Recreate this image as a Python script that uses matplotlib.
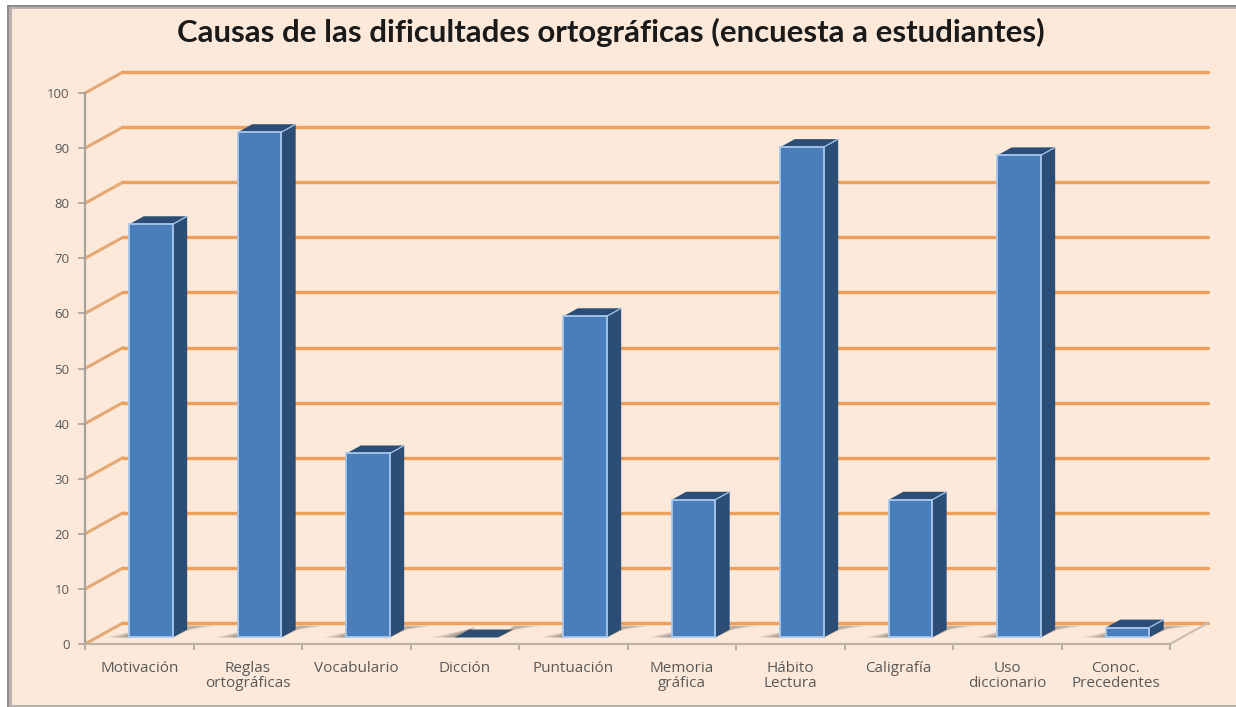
import matplotlib
matplotlib.use("Agg")
import matplotlib.pyplot as plt
from matplotlib.patches import Polygon, Rectangle

categories = ["Motivación", "Reglas\nortográficas", "Vocabulario", "Dicción", "Puntuación",
              "Memoria\ngráfica", "Hábito\nLectura", "Caligrafía", "Uso\ndiccionario", "Conoc.\nPrecedentes"]
values = [75, 91.7, 33.4, 0, 58.3, 25, 89, 25, 87.5, 1.8]
y_ticks = [0, 10, 20, 30, 40, 50, 60, 70, 80, 90, 100]
title = "Causas de las dificultades ortográficas (encuesta a estudiantes)"

W, H = 1236, 707
BG = "#FCE9DA"
GRID = "#EE9F5C"
FRONT = "#4A7EBB"
DARK = "#2C4D75"
EDGE = "#A9C8EE"
TXT = "#595959"
plt.rcParams["font.family"] = ["Open Sans", "DejaVu Sans"]

fig = plt.figure(figsize=(W / 100, H / 100), dpi=100, facecolor="white")

# picture frame
def frame(x0, y0, x1, y1, color, z=-3):
    fig.patches.append(Rectangle((x0 / W, 1 - y1 / H), (x1 - x0) / W, (y1 - y0) / H,
                                 transform=fig.transFigure, facecolor=color, edgecolor="none",
                                 zorder=z))
frame(7, 5, W, H, "#8C8C8C", -3)
frame(9, 7, W, H, "#B9B2AE", -2)
frame(12, 9, W, H - 2, BG, -1)

# front plane of the plot
ax = fig.add_axes([85 / W, 1 - 644 / H, (1170 - 85) / W, (644 - 93) / H], zorder=2)
ax.set_xlim(0, 10)
ax.set_ylim(0, 100)
ax.patch.set_alpha(0)
DX, DY = 38 / 108.5, 21 / 5.51   # full depth of the 3D box in data units


def p(x, y, d):
    return (x + DX * d, y + DY * d)


def poly(pts, **kw):
    kw.setdefault("edgecolor", "none")
    ax.add_patch(Polygon(pts, closed=True, clip_on=False, **kw))


# gridlines on side and back walls
for v in y_ticks:
    a, b, c = p(0, v, 0), p(0, v, 1), p(10, v, 1)
    ax.plot([a[0], b[0]], [a[1], b[1]], color="#E3A873", lw=2.2, clip_on=False, zorder=1,
            solid_capstyle="round")
    ax.plot([b[0], c[0]], [b[1], c[1]], color=GRID, lw=2.4, clip_on=False, zorder=1,
            solid_capstyle="round")

# floor edge at the right
a, b = p(10, 0, 0), p(10, 0, 1)
ax.plot([a[0], b[0]], [a[1], b[1]], color="#C9BEB2", lw=1.5, clip_on=False, zorder=1)

D0, D1 = 0.31, 0.69
BW = 0.40
for i, v in enumerate(values):
    x0, x1 = i + 0.5 - BW / 2, i + 0.5 + BW / 2
    # soft floor shadow: a grey wedge left of the base, a tan fade right of the side
    for k in range(8):
        s = 0.028 * (8 - k)
        poly([p(x0 - s, 0, D0), p(x0 + 0.02, 0, D0), p(x0 + 0.02, 0, D1 + 0.1)],
             facecolor="#3A3A3A", alpha=0.075, zorder=2)
        poly([p(x1, 0, D0), p(x1 + 0.02, 0, D1), p(x1 + 0.02 + s, 0, D1 + 0.18), p(x1 - 0.05, 0, D1 + 0.18)],
             facecolor="#6A5A48", alpha=0.06, zorder=2)
    # side, top, front of the bar
    poly([p(x1, 0, D0), p(x1, 0, D1), p(x1, v, D1), p(x1, v, D0)], facecolor=DARK, zorder=3)
    poly([p(x0, v, D0), p(x1, v, D0), p(x1, v, D1), p(x0, v, D1)], facecolor=DARK, zorder=3)
    if v > 0:
        f0 = p(x0, 0, D0)
        f1 = p(x1, v, D0)
        ax.add_patch(Rectangle(f0, f1[0] - f0[0], f1[1] - f0[1], facecolor=FRONT, edgecolor=EDGE,
                               lw=1.3, clip_on=False, zorder=4))
        t1 = p(x1, v, D0)
        t2 = p(x1, v, D1)
        ax.plot([t1[0], t2[0]], [t1[1], t2[1]], color=EDGE, lw=0.9, clip_on=False, zorder=4)

# axes
for s in ("top", "right"):
    ax.spines[s].set_visible(False)
ax.spines["left"].set_color("#A8A29C")
ax.spines["left"].set_linewidth(1.6)
ax.spines["bottom"].set_color("#BDB3A6")
ax.spines["bottom"].set_linewidth(1.6)
ax.set_yticks(y_ticks)
ax.tick_params(axis="y", length=5, width=1.2, color="#A8A29C", labelsize=9.5, labelcolor=TXT, pad=6)
ax.set_xticks(range(11))
ax.set_xticklabels([])
ax.set_xticks([i + 0.5 for i in range(10)], minor=True)
ax.set_xticklabels(categories, minor=True, fontsize=11, color=TXT, linespacing=1.0)
ax.tick_params(axis="x", which="major", length=4, width=1.2, color="#A8A29C")
ax.tick_params(axis="x", which="minor", length=0, pad=12)

fig.text(611 / W, 1 - 32 / H, title, ha="center", va="center", fontsize=22.4, fontweight="bold",
         color="#1A1A1A", zorder=5, family=["Lato", "DejaVu Sans"])

fig.savefig("out.png", dpi=100, facecolor=fig.get_facecolor())
